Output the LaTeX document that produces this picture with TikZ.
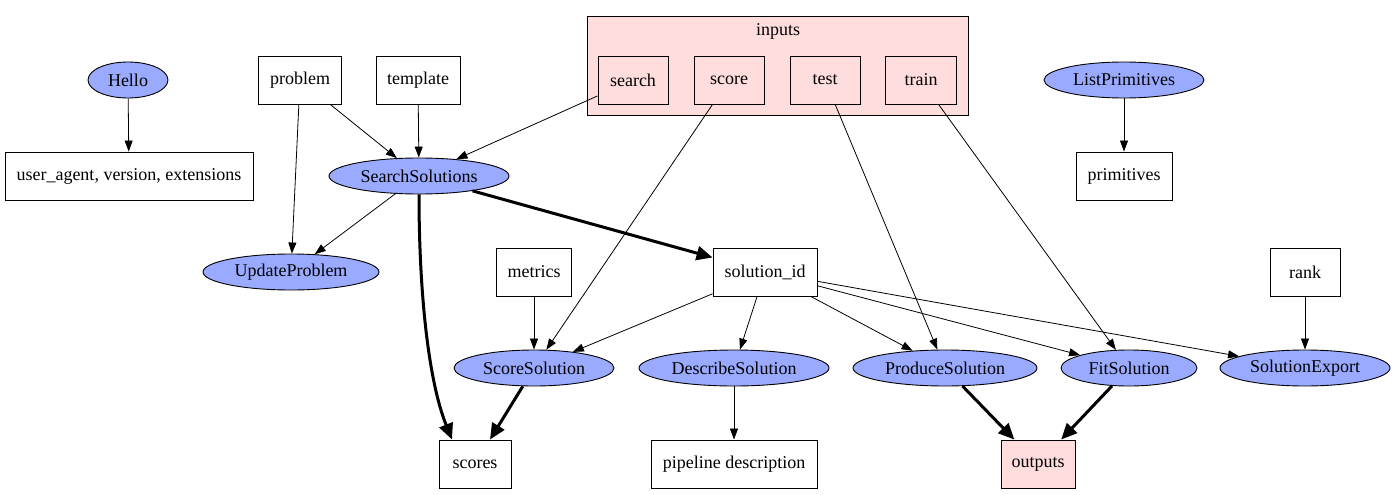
\documentclass[tikz,border=0pt]{standalone}
\usepackage{fontspec}
\setmainfont{Liberation Serif}
\usetikzlibrary{shapes.geometric,arrows.meta}
\definecolor{nodeblue}{HTML}{99AAFF}
\definecolor{pinkfill}{HTML}{FFDDDD}
\begin{document}
\begin{tikzpicture}[x=1pt,y=-1pt,
  every node/.style={font=\fontsize{18}{20}\selectfont},
  boxnode/.style={draw, rectangle, line width=0.9pt, minimum height=48pt, inner sep=0pt},
  ellnode/.style={draw, ellipse, fill=nodeblue, line width=0.9pt, minimum height=36pt, inner sep=0pt},
  edge/.style={line width=0.8pt, -{Triangle[length=11pt,width=8pt]}},
  thickedge/.style={line width=3pt, -{Triangle[length=16pt,width=14pt]}},
]
\useasboundingbox (0,0) rectangle (1397,495);
\fill[white] (0,0) rectangle (1397,495);
% cluster
\draw[line width=0.9pt, fill=pinkfill] (587,16) rectangle (968,115);
\node (inputslabel) at (778,31) {inputs};
% nodes
\node[ellnode, minimum width=80pt] (hello) at (128,80) {Hello};
\node[boxnode, minimum width=248pt] (ua) at (129,176) {user\_agent, version, extensions};
\node[boxnode, minimum width=83pt] (problem) at (300,80) {problem};
\node[boxnode, minimum width=84pt] (template) at (418,80) {template};
\node[boxnode, minimum width=70pt] (search) at (633,80) {search};
\node[boxnode, minimum width=70pt] (score) at (729,80) {score};
\node[boxnode, minimum width=70pt] (test) at (825,80) {test};
\node[boxnode, minimum width=71pt] (train) at (921,80) {train};
\node[ellnode, minimum width=160pt] (listp) at (1124,80) {ListPrimitives};
\node[boxnode, minimum width=96pt] (prims) at (1124,176) {primitives};
\node[ellnode, minimum width=180pt] (ss) at (419,176) {SearchSolutions};
\node[ellnode, minimum width=176pt] (up) at (291,272) {UpdateProblem};
\node[boxnode, minimum width=75pt] (metrics) at (534,272) {metrics};
\node[boxnode, minimum width=104pt] (sid) at (765,272) {solution\_id};
\node[boxnode, minimum width=70pt] (rank) at (1305,272) {rank};
\node[ellnode, minimum width=160pt] (scoresol) at (534,368) {ScoreSolution};
\node[ellnode, minimum width=190pt] (descsol) at (734,368) {DescribeSolution};
\node[ellnode, minimum width=184pt] (prodsol) at (945,368) {ProduceSolution};
\node[ellnode, minimum width=136pt] (fitsol) at (1129,368) {FitSolution};
\node[ellnode, minimum width=170pt] (expsol) at (1305,368) {SolutionExport};
\node[boxnode, minimum width=72pt] (scores) at (475,464) {scores};
\node[boxnode, minimum width=166pt] (pipe) at (734,464) {pipeline description};
\node[boxnode, minimum width=74pt, fill=pinkfill] (outputs) at (1038,464) {outputs};
% edges
\draw[edge] (hello) -- (ua);
\draw[edge] (listp) -- (prims);
\draw[edge] (problem) -- (ss);
\draw[edge] (problem) -- (up);
\draw[edge] (template) -- (ss);
\draw[edge] (search) -- (ss);
\draw[edge] (ss) -- (up);
\draw[thickedge] (ss) -- (sid);
\draw[thickedge] (ss.south) .. controls (419,290) and (428,380) .. ([xshift=-23pt]scores.north);
\draw[edge] (score) -- (scoresol);
\draw[edge] (test) -- (prodsol);
\draw[edge] (train) -- (fitsol);
\draw[edge] (metrics) -- (scoresol);
\draw[edge] (sid) -- (scoresol);
\draw[edge] (sid) -- (descsol);
\draw[edge] (sid) -- (prodsol);
\draw[edge] (sid) -- (fitsol);
\draw[edge] (sid) -- (expsol);
\draw[edge] (rank) -- (expsol);
\draw[thickedge] (scoresol) -- (scores);
\draw[edge] (descsol) -- (pipe);
\draw[thickedge] (prodsol) -- (outputs);
\draw[thickedge] (fitsol) -- (outputs);
\end{tikzpicture}
\end{document}
